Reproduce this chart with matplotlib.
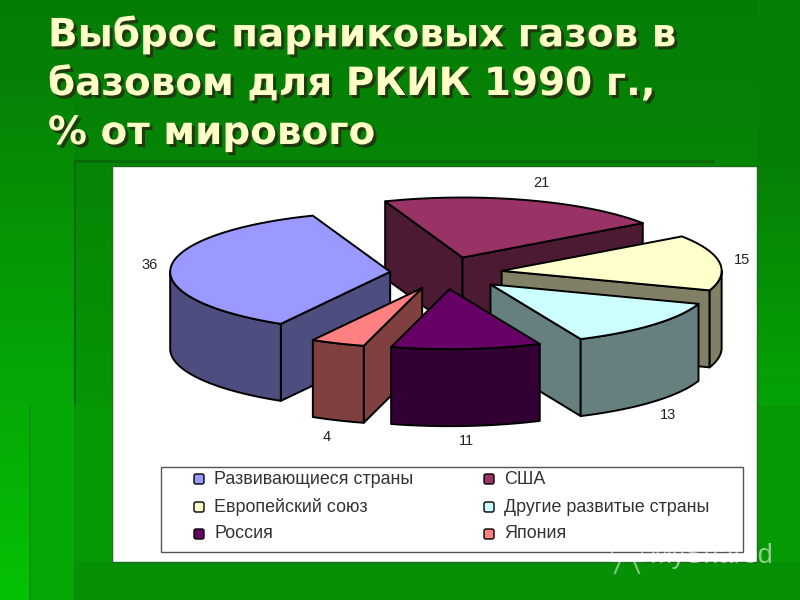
import numpy as np
import matplotlib
matplotlib.use("Agg")
import matplotlib.pyplot as plt
import matplotlib.patheffects as pe
from matplotlib.patches import Polygon, Rectangle, FancyBboxPatch

# ---- data ----
categories = ["Развивающиеся страны", "США", "Европейский союз",
              "Другие развитые страны", "Россия", "Япония"]
values = [36, 21, 15, 13, 11, 4]
title_lines = ["Выброс парниковых газов в", "базовом для РКИК 1990 г.,", "% от мирового"]

# ---- style ----
top_colors = ["#9999FF", "#993366", "#FFFFCC", "#CCFFFF", "#660066", "#FF8080"]
side_colors = ["#4D4D80", "#4D1A33", "#808066", "#668080", "#330033", "#804040"]
explode = [0.25, 0.27, 0.26, 0.28, 0.27, 0.27]
label_xy = [(150, 265), (541, 183), (742, 260), (668, 415), (466, 441), (327, 437)]
draw_order = [1, 0, 2, 3, 5, 4]
cx, cy, ra, rb, depth = 445, 273, 220, 60, 77
start_angle = -150.2

fig = plt.figure(figsize=(8, 6), dpi=100)
ax = fig.add_axes([0, 0, 1, 1])
ax.set_xlim(0, 800)
ax.set_ylim(600, 0)
ax.axis("off")

# background panels
yy, xx = np.mgrid[0:600, 0:800]
g = 0.49 + 0.03 * (yy / 160)
f = np.clip((yy - 160) / 440, 0, 1)
g = np.where(yy >= 160, 0.52 + 0.12 * f, g)
g = np.where((xx < 75) & (yy >= 100), 0.52 + 0.24 * np.clip((yy - 100) / 500, 0, 1), g)
g = np.where((xx >= 30) & (xx < 75) & (yy >= 405), 0.66, g)
g = np.where((xx >= 75) & (xx < 112) & (yy >= 405), 0.60, g)
g = np.where((xx >= 757) & (yy < 405), 0.50 + 0.14 * np.clip((yy - 160) / 245, 0, 1), g)
g = np.where((xx >= 757) & (yy >= 405), 0.60, g)
g = np.where((yy >= 562) & (xx >= 75), 0.565, g)
bg = np.dstack([np.full_like(g, 0.02), g, np.full_like(g, 0.02)])
ax.imshow(bg, extent=(0, 800, 600, 0), aspect="auto", zorder=0, interpolation="bilinear")
ax.plot([75, 75], [160, 405], color="#0A6A0A", lw=1.5, zorder=1)
ax.plot([75, 713], [161, 161], color="#0A6A0A", lw=2, zorder=1)
ax.plot([30, 30], [405, 600], color="#0E9010", lw=1.2, zorder=1)
ax.plot([75, 75], [405, 600], color="#0E8A10", lw=1.2, zorder=1)

# title
for i, line in enumerate(title_lines):
    y = 35 + 49 * i
    ax.text(48, y, line, fontsize=28, fontweight="bold",
            family="DejaVu Sans", color="#FFFFC8", va="center", ha="left", zorder=3,
            path_effects=[pe.withSimplePatchShadow(offset=(2.2, -2.2), shadow_rgbFace="#1E3A0E", alpha=1)])

# plot area
ax.add_patch(Rectangle((112, 166), 645, 396, fc="white", ec="#1E6A1E", lw=1, zorder=4))


def ell(theta, tx, ty):
    t = np.radians(theta)
    return tx + ra * np.sin(t), ty - rb * np.cos(t)


spans = 360 * np.array(values) / np.sum(values)
starts = start_angle + np.concatenate(([0], np.cumsum(spans)[:-1]))
for i in draw_order:
    t0, t1 = starts[i], starts[i] + spans[i]
    mid = np.radians((t0 + t1) / 2)
    tx = cx + explode[i] * ra * np.sin(mid)
    ty = cy - explode[i] * rb * np.cos(mid)
    z = 5 + draw_order.index(i) * 0.1
    kw = dict(ec="black", lw=1.4, joinstyle="round", zorder=z)
    for th, visible in [(t0, np.sin(np.radians(t0)) < 0), (t1, np.sin(np.radians(t1)) > 0)]:
        if visible:
            px, py = ell(th, tx, ty)
            ax.add_patch(Polygon([(tx, ty), (px, py), (px, py + depth), (tx, ty + depth)],
                                 fc=side_colors[i], **kw))
    # outer wall: the part of the arc that faces the viewer
    for base in (90, 450, -270):
        a, b = max(t0, base), min(t1, base + 180)
        if b > a:
            th = np.linspace(a, b, 60)
            x, y = ell(th, tx, ty)
            pts = np.r_[np.c_[x, y], np.c_[x, y + depth][::-1]]
            ax.add_patch(Polygon(pts, fc=side_colors[i], **kw))
    th = np.linspace(t0, t1, 120)
    x, y = ell(th, tx, ty)
    ax.add_patch(Polygon(np.r_[[(tx, ty)], np.c_[x, y]], fc=top_colors[i], **kw))

for v, (lx, ly) in zip(values, label_xy):
    ax.text(lx, ly, str(v), fontsize=10.5, family="Liberation Sans", color="#222222",
            ha="center", va="center", zorder=7)

# legend
ax.add_patch(Rectangle((161, 467), 582, 85, fc="white", ec="#555555", lw=1, zorder=6))
col_x = [199, 489]
row_y = [479, 507, 534]
for i, name in enumerate(categories):
    sx, sy = col_x[i % 2], row_y[i // 2]
    ax.add_patch(FancyBboxPatch((sx - 4, sy - 4), 8, 8, boxstyle="round,pad=1,rounding_size=2",
                                fc=top_colors[i], ec="black", lw=1, zorder=7))
    ax.text(sx + 15, sy, name, fontsize=12.9, family="Liberation Sans", color="#333333",
            va="center", ha="left", zorder=7)

# watermark
ax.text(650, 556, "MyShared", fontsize=19.5, family="Liberation Sans", color="white", alpha=0.55,
        va="center", ha="left", zorder=8)
ax.add_patch(Rectangle((612, 541), 30, 20, fc="none", ec="white", alpha=0.5, lw=1.5, zorder=8))
ax.plot([620, 615], [561, 573], color="white", alpha=0.5, lw=1.5, zorder=8)
ax.plot([634, 639], [561, 573], color="white", alpha=0.5, lw=1.5, zorder=8)

fig.savefig("out.png", dpi=100)
